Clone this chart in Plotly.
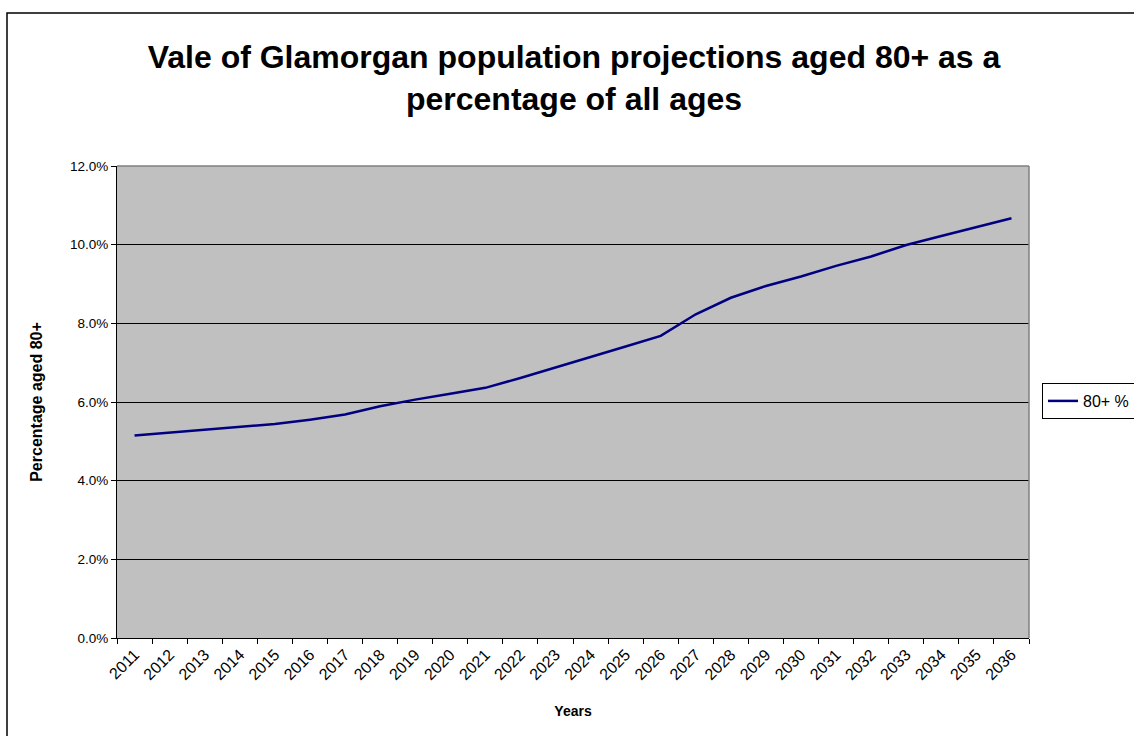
import plotly.graph_objects as go

# Projected share of the Vale of Glamorgan population aged 80 and over
years = [str(y) for y in range(2011, 2037)]
pct_80_plus = [
    0.0515, 0.0522, 0.0529, 0.0537, 0.0544, 0.0555, 0.0568, 0.0589, 0.0606,
    0.0621, 0.0636, 0.0661, 0.0687, 0.0713, 0.0741, 0.0768, 0.0823, 0.0865,
    0.0895, 0.0919, 0.0946, 0.0970, 0.0999, 0.1022, 0.1045, 0.1067,
]
y_ticks = [0.0, 0.02, 0.04, 0.06, 0.08, 0.10, 0.12]

FONT = "Arial, 'Liberation Sans', sans-serif"
W, H = 1134, 736
PLOT_L, PLOT_R, PLOT_T, PLOT_B = 117, 1029, 166, 638

fig = go.Figure()
fig.add_trace(go.Scatter(
    x=years, y=pct_80_plus, mode="lines", name="80+ %",
    line=dict(color="#000080", width=2.5),
))

fig.update_layout(
    width=W, height=H,
    margin=dict(l=PLOT_L, r=W - PLOT_R, t=PLOT_T, b=H - PLOT_B, pad=0,
                autoexpand=False),
    paper_bgcolor="white",
    plot_bgcolor="#C0C0C0",
    font=dict(family=FONT, color="black", size=13),
    title=dict(
        text="<b>Vale of Glamorgan population projections aged 80+ as a<br>percentage of all ages</b>",
        font=dict(size=32, family=FONT, color="black"),
        x=574 / W, xanchor="center", xref="container",
        y=1 - 68 / H, yanchor="top", yref="container",
    ),
    xaxis=dict(
        type="category", range=[-0.5, len(years) - 0.5],
        tickson="boundaries", ticks="outside", ticklen=5, tickcolor="black",
        tickangle=-45, tickfont=dict(size=16),
        showline=True, linecolor="black", linewidth=1,
        showgrid=False, zeroline=False,
        title=dict(text="<b>Years</b>", font=dict(size=14), standoff=24),
    ),
    yaxis=dict(
        range=[0, 0.12], tickvals=y_ticks, tickformat=".1%",
        ticks="outside", ticklen=5, tickcolor="black", tickfont=dict(size=13.5),
        showline=True, linecolor="black", linewidth=1,
        showgrid=True, gridcolor="black", gridwidth=1, zeroline=False,
        title=dict(text="<b>Percentage aged 80+</b>", font=dict(size=16), standoff=23),
    ),
    legend=dict(
        x=(1042 - PLOT_L) / (PLOT_R - PLOT_L), xanchor="left",
        y=(PLOT_B - 401) / (PLOT_B - PLOT_T), yanchor="middle",
        bordercolor="black", borderwidth=1, bgcolor="white",
        font=dict(size=16), tracegroupgap=0,
    ),
    showlegend=True,
    shapes=[
        # grey frame on top and right of the plotting area
        dict(type="line", xref="paper", yref="paper", x0=0, x1=1, y0=1, y1=1,
             line=dict(color="#808080", width=1.5), layer="above"),
        dict(type="line", xref="paper", yref="paper", x0=1, x1=1, y0=0, y1=1,
             line=dict(color="#808080", width=1.5), layer="above"),
        # outer chart border
        dict(type="rect", xref="paper", yref="paper",
             x0=(7 - PLOT_L) / (PLOT_R - PLOT_L), x1=(1145 - PLOT_L) / (PLOT_R - PLOT_L),
             y0=(PLOT_B - 745) / (PLOT_B - PLOT_T), y1=(PLOT_B - 13) / (PLOT_B - PLOT_T),
             line=dict(color="black", width=1.5), layer="above"),
    ],
)

fig.write_html("out.html")
